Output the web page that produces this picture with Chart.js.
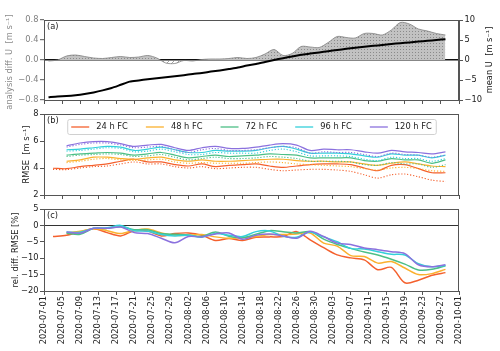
<!DOCTYPE html>
<html>
<head>
<meta charset="utf-8">
<script src="https://cdn.jsdelivr.net/npm/chart.js@4.4.1/dist/chart.umd.min.js"></script>
<style>
  html, body { margin: 0; padding: 0; background: #fff; }
  #wrap { position: relative; width: 500px; height: 351px; }
  #wrap canvas { position: absolute; left: 0; top: 0; }
</style>
</head>
<body>
<div id="wrap">
  <canvas id="panelA" width="500" height="351"></canvas>
  <canvas id="panelB" width="500" height="351"></canvas>
  <canvas id="panelC" width="500" height="351"></canvas>
</div>
<script>
// x values are days since 2020-07-01
const dateTicks = ["2020-07-01", "2020-07-05", "2020-07-09", "2020-07-13", "2020-07-17", "2020-07-21",
  "2020-07-25", "2020-07-29", "2020-08-02", "2020-08-06", "2020-08-10", "2020-08-14", "2020-08-18",
  "2020-08-22", "2020-08-26", "2020-08-30", "2020-09-03", "2020-09-07", "2020-09-11", "2020-09-15",
  "2020-09-19", "2020-09-23", "2020-09-27", "2020-10-01"];

// panel (a)
const daysA = [1, 3, 5, 7, 9, 11, 13, 15, 17, 19, 21, 23, 25, 27, 29, 31, 33, 35, 37, 39, 41, 43, 45,
  47, 49, 51, 53, 55, 57, 59, 61, 63, 65, 67, 69, 71, 73, 75, 77, 79, 81, 83, 85, 87, 89];
const analysisDiff = [-0.02, 0.0, 0.08, 0.1, 0.07, 0.04, 0.03, 0.05, 0.07, 0.05, 0.06, 0.09, 0.04, -0.06,
  -0.07, -0.01, -0.02, 0.01, 0.02, 0.02, 0.03, 0.05, 0.03, 0.05, 0.12, 0.21, 0.09, 0.13, 0.27, 0.26,
  0.25, 0.35, 0.47, 0.45, 0.44, 0.53, 0.53, 0.5, 0.6, 0.75, 0.72, 0.62, 0.58, 0.53, 0.5];
const meanU = [-9.3, -9.1, -9.0, -8.8, -8.5, -8.1, -7.6, -7.0, -6.2, -5.4, -5.1, -4.8, -4.55, -4.3,
  -4.05, -3.8, -3.5, -3.25, -2.9, -2.6, -2.25, -1.9, -1.4, -1.0, -0.5, 0.0, 0.45, 0.9, 1.3, 1.6, 1.9,
  2.2, 2.5, 2.8, 3.05, 3.3, 3.55, 3.75, 4.0, 4.2, 4.4, 4.6, 4.8, 5.0, 5.2];

// panels (b) and (c)
const days = [2, 5, 8, 11, 14, 17, 20, 23, 26, 29, 32, 35, 38, 41, 44, 47, 50, 53, 56, 59, 62, 65, 68,
  71, 74, 77, 80, 83, 86, 89];

const rmse24 = [3.98, 3.95, 4.1, 4.2, 4.3, 4.5, 4.65, 4.45, 4.45, 4.25, 4.15, 4.3, 4.1, 4.2, 4.25, 4.3,
  4.15, 4.05, 4.15, 4.25, 4.3, 4.3, 4.25, 4.0, 3.8, 4.2, 4.25, 3.95, 3.65, 3.65];
const rmse24Ref = [3.9, 3.88, 4.0, 4.1, 4.15, 4.3, 4.45, 4.3, 4.3, 4.1, 4.0, 4.1, 3.95, 4.0, 4.05, 4.05,
  3.9, 3.8, 3.85, 3.9, 3.9, 3.85, 3.75, 3.5, 3.25, 3.5, 3.55, 3.35, 3.1, 3.0];
const rmse48 = [null, 4.5, 4.6, 4.8, 4.8, 4.7, 4.65, 4.75, 4.8, 4.6, 4.5, 4.6, 4.5, 4.5, 4.55, 4.6, 4.65,
  4.65, 4.55, 4.5, 4.5, 4.45, 4.45, 4.3, 4.2, 4.35, 4.45, 4.3, 4.15, 4.1];
const rmse48Ref = [null, 4.4, 4.5, 4.65, 4.7, 4.6, 4.55, 4.6, 4.65, 4.45, 4.35, 4.4, 4.35, 4.35, 4.35,
  4.4, 4.45, 4.4, 4.3, 4.25, 4.2, 4.15, 4.1, 3.95, 3.85, 4.0, 4.05, 3.95, 3.8, 3.75];
const rmse72 = [null, 4.95, 5.05, 5.1, 5.15, 5.1, 4.95, 5.05, 5.15, 4.95, 4.75, 4.85, 4.95, 4.85, 4.9,
  4.95, 5.05, 5.0, 4.95, 4.75, 4.75, 4.75, 4.75, 4.55, 4.5, 4.7, 4.6, 4.6, 4.35, 4.6];
const rmse72Ref = [null, 4.85, 4.95, 5.0, 5.05, 5.0, 4.85, 4.9, 5.0, 4.8, 4.6, 4.7, 4.8, 4.7, 4.7, 4.75,
  4.85, 4.8, 4.7, 4.5, 4.5, 4.5, 4.45, 4.25, 4.2, 4.4, 4.3, 4.3, 4.05, 4.25];
const rmse96 = [null, 5.35, 5.4, 5.5, 5.6, 5.55, 5.3, 5.4, 5.55, 5.35, 5.15, 5.15, 5.3, 5.25, 5.25, 5.3,
  5.5, 5.6, 5.4, 5.1, 5.1, 5.1, 5.05, 4.9, 4.8, 5.05, 4.95, 4.95, 4.75, 4.95];
const rmse96Ref = [null, 5.25, 5.3, 5.4, 5.5, 5.45, 5.2, 5.25, 5.4, 5.2, 5.0, 5.0, 5.15, 5.1, 5.1, 5.1,
  5.3, 5.4, 5.2, 4.9, 4.9, 4.9, 4.85, 4.65, 4.55, 4.8, 4.7, 4.7, 4.5, 4.7];
const rmse120 = [null, 5.65, 5.85, 5.95, 5.95, 5.8, 5.6, 5.7, 5.75, 5.5, 5.3, 5.5, 5.6, 5.45, 5.45, 5.55,
  5.7, 5.8, 5.7, 5.3, 5.4, 5.35, 5.35, 5.2, 5.1, 5.3, 5.2, 5.15, 5.05, 5.2];
const rmse120Ref = [null, 5.55, 5.75, 5.85, 5.85, 5.7, 5.5, 5.55, 5.6, 5.35, 5.15, 5.35, 5.45, 5.3, 5.3,
  5.35, 5.5, 5.6, 5.5, 5.1, 5.2, 5.15, 5.15, 5.0, 4.85, 5.1, 5.0, 4.95, 4.8, 4.95];

const rel24 = [-3.4, -3.0, -2.0, -1.0, -2.2, -3.2, -1.6, -1.7, -3.2, -2.5, -2.3, -3.0, -4.6, -4.0, -4.6,
  -3.6, -3.5, -3.4, -1.9, -4.4, -6.8, -9.0, -9.9, -10.5, -13.5, -12.8, -17.5, -16.7, -15.2, -14.4];
const rel48 = [null, -2.3, -1.8, -1.0, -1.6, -2.5, -1.5, -1.1, -2.3, -3.0, -3.0, -2.8, -3.5, -3.9, -3.8,
  -3.4, -2.8, -2.8, -2.6, -2.3, -5.4, -6.3, -9.2, -9.5, -11.5, -11.0, -13.0, -15.0, -14.7, -13.4];
const rel72 = [null, -2.4, -2.7, -0.9, -0.9, -0.4, -1.3, -1.3, -2.5, -2.7, -2.9, -3.4, -2.0, -3.3, -3.8,
  -2.7, -1.6, -1.9, -2.3, -1.9, -4.2, -5.8, -7.0, -8.1, -9.0, -10.3, -11.8, -13.6, -13.4, -12.3];
const rel96 = [null, -2.0, -2.1, -0.9, -0.7, 0.0, -1.6, -1.8, -2.8, -3.2, -3.0, -3.6, -2.5, -3.0, -3.4,
  -1.9, -1.7, -3.3, -3.6, -2.0, -3.5, -5.0, -7.0, -7.2, -8.0, -8.8, -9.0, -11.7, -12.6, -12.2];
const rel120 = [null, -2.0, -2.4, -0.9, -0.9, -0.5, -2.2, -2.5, -3.9, -5.3, -3.4, -3.5, -2.6, -2.3, -4.2,
  -3.0, -2.6, -3.2, -3.9, -1.8, -3.4, -5.4, -5.8, -6.9, -7.4, -8.0, -8.6, -12.0, -12.6, -12.0];

const horizons = [
  { label: "24 h FC", color: "#f4602d", rmse: rmse24, ref: rmse24Ref, rel: rel24 },
  { label: "48 h FC", color: "#fbb12e", rmse: rmse48, ref: rmse48Ref, rel: rel48 },
  { label: "72 h FC", color: "#4cbf86", rmse: rmse72, ref: rmse72Ref, rel: rel72 },
  { label: "96 h FC", color: "#33d0da", rmse: rmse96, ref: rmse96Ref, rel: rel96 },
  { label: "120 h FC", color: "#8b71de", rmse: rmse120, ref: rmse120Ref, rel: rel120 }
];

Chart.defaults.font.family = "DejaVu Sans";
Chart.defaults.font.size = 8.3;
const FONT = { family: "DejaVu Sans", size: 8.3 };
const TXT = '8.3px "DejaVu Sans"';

const pts = (xs, ys) => xs.map((x, i) => ({ x: x, y: ys[i] }));
const minus = s => String(s).replace("-", "\u2212");
const isZero = v => Math.abs(v) < 1e-9;

// frame, panel tag and rotated axis titles
const decor = {
  id: "decor",
  afterDatasetsDraw(chart, args, o) {
    const ctx = chart.ctx, a = chart.chartArea;
    ctx.save();
    ctx.strokeStyle = "#555";
    ctx.lineWidth = 1;
    ctx.strokeRect(Math.round(a.left) + 0.5, Math.round(a.top) + 0.5,
      Math.round(a.right - a.left) - 1, Math.round(a.bottom - a.top));
    ctx.font = TXT;
    ctx.fillStyle = "#222";
    ctx.textBaseline = "top";
    ctx.fillText(o.tag, a.left + 3, a.top + 3);
    (o.titles || []).forEach(t => {
      ctx.save();
      ctx.translate(t.x, (a.top + a.bottom) / 2 + (t.dy || 0));
      ctx.rotate(-Math.PI / 2);
      ctx.textAlign = "center";
      ctx.textBaseline = "middle";
      ctx.fillStyle = t.color;
      ctx.fillText(t.text, 0, 0);
      ctx.restore();
    });
    ctx.restore();
  }
};

// boxed one-row legend like matplotlib
const boxLegend = {
  id: "boxLegend",
  afterDatasetsDraw(chart, args, o) {
    const ctx = chart.ctx, a = chart.chartArea;
    const items = chart.data.datasets.filter(d => d.inLegend);
    const lineLen = 18, gapText = 7, gapItem = 18, pad = 4;
    ctx.save();
    ctx.font = TXT;
    const widths = items.map(d => ctx.measureText(d.label).width);
    let total = 2 * pad + gapItem * (items.length - 1);
    widths.forEach(w => { total += lineLen + gapText + w; });
    const x0 = (a.left + a.right) / 2 - total / 2, y0 = a.top + o.offset, h = o.height;
    ctx.beginPath();
    ctx.roundRect(x0 + 0.5, y0 + 0.5, total, h, 2);
    ctx.fillStyle = "rgba(255,255,255,0.8)";
    ctx.fill();
    ctx.strokeStyle = "#d0d0d0";
    ctx.lineWidth = 1;
    ctx.stroke();
    let x = x0 + pad;
    const yMid = y0 + h / 2 + 0.5;
    items.forEach((d, i) => {
      ctx.beginPath();
      ctx.moveTo(x, yMid);
      ctx.lineTo(x + lineLen, yMid);
      ctx.strokeStyle = d.borderColor;
      ctx.lineWidth = 1.3;
      ctx.stroke();
      ctx.fillStyle = "#222";
      ctx.textBaseline = "middle";
      ctx.fillText(d.label, x + lineLen + gapText, yMid);
      x += lineLen + gapText + widths[i] + gapItem;
    });
    ctx.restore();
  }
};

function xScale(showLabels) {
  return {
    type: "linear", min: 0, max: 92,
    afterFit: s => { s.height = showLabels ? 60 : 4; },
    ticks: {
      display: showLabels, stepSize: 4, autoSkip: false, minRotation: 90, maxRotation: 90,
      padding: 1, color: "#222", font: FONT,
      callback: v => dateTicks[Math.round(v / 4)]
    },
    grid: { drawOnChartArea: false, tickLength: 4, color: "#555", tickColor: "#555", tickWidth: 1 },
    border: { color: "#555" }
  };
}

function yScale(o) {
  return {
    position: o.pos || "left", min: o.min, max: o.max,
    afterFit: s => { s.width = o.width; },
    ticks: { stepSize: o.step, padding: 1.5, color: o.color || "#222", font: FONT, callback: o.fmt },
    grid: {
      drawOnChartArea: !!o.zero,
      color: c => (o.zero && c.tick && isZero(c.tick.value)) ? o.zero : "rgba(0,0,0,0)",
      lineWidth: o.zeroWidth || 1,
      tickLength: 4, tickColor: "#555", tickWidth: 1
    },
    border: { color: "#555" }
  };
}

const base = {
  responsive: false,
  animation: false,
  events: [],
  elements: { point: { radius: 0 }, line: { tension: 0.3 } }
};

// ---------- panel (a) ----------
const ctxA = document.getElementById("panelA").getContext("2d");
const dotCanvas = document.createElement("canvas");
dotCanvas.width = 3; dotCanvas.height = 3;
const dg = dotCanvas.getContext("2d");
dg.fillStyle = "#c2c2c2"; dg.fillRect(0, 0, 3, 3);
dg.fillStyle = "#8a8a8a"; dg.fillRect(1, 1, 1, 1);
const hatchCanvas = document.createElement("canvas");
hatchCanvas.width = 5; hatchCanvas.height = 5;
const hg = hatchCanvas.getContext("2d");
hg.strokeStyle = "#8a8a8a"; hg.lineWidth = 0.8;
hg.beginPath(); hg.moveTo(0, 5); hg.lineTo(5, 0); hg.stroke();

new Chart(ctxA, {
  type: "line",
  data: {
    datasets: [
      { label: "mean U", data: pts(daysA, meanU), yAxisID: "yR", borderColor: "#000",
        borderWidth: 2, fill: false, order: 0, tension: 0.2 },
      { label: "analysis diff. U", data: pts(daysA, analysisDiff), yAxisID: "y",
        borderColor: "#808080", borderWidth: 0.8, order: 1,
        fill: { target: "origin", above: ctxA.createPattern(dotCanvas, "repeat"),
                below: ctxA.createPattern(hatchCanvas, "repeat") } }
    ]
  },
  options: Object.assign({}, base, {
    layout: { padding: { top: 20, bottom: 247, left: 0, right: 0 } },
    plugins: {
      legend: { display: false }, tooltip: { enabled: false },
      decor: { tag: "(a)", titles: [
        { text: "analysis diff. U  [m s\u207B\u00B9]", x: 10, dy: 2, color: "#8a8a8a" },
        { text: "mean U  [m s\u207B\u00B9]", x: 490, color: "#111" }
      ] }
    },
    scales: {
      x: xScale(false),
      y: yScale({ min: -0.8, max: 0.8, step: 0.4, width: 44, color: "#808080",
        zero: "#111", zeroWidth: 1.4, fmt: v => isZero(v) ? "0.0" : minus(v.toFixed(1)) }),
      yR: yScale({ pos: "right", min: -10, max: 10, step: 5, width: 41,
        fmt: v => isZero(v) ? "0" : minus(v.toFixed(0)) })
    }
  }),
  plugins: [decor]
});

// ---------- panel (b) ----------
const dsB = [];
horizons.forEach((h, i) => {
  dsB.push({ label: h.label, inLegend: true, data: pts(days, h.rmse), borderColor: h.color,
    borderWidth: 1.2, fill: false, order: 10 - 2 * i });
  dsB.push({ label: h.label + " ref", data: pts(days, h.ref), borderColor: h.color,
    borderWidth: 1.1, borderDash: [1.2, 1.8], fill: false, order: 11 - 2 * i });
});
new Chart(document.getElementById("panelB"), {
  type: "line",
  data: { datasets: dsB },
  options: Object.assign({}, base, {
    layout: { padding: { top: 114, bottom: 152, left: 0, right: 41 } },
    plugins: {
      legend: { display: false }, tooltip: { enabled: false },
      decor: { tag: "(b)", titles: [{ text: "RMSE  [m s\u207B\u00B9]", x: 27, color: "#222" }] },
      boxLegend: { offset: 5, height: 15 }
    },
    scales: {
      x: xScale(false),
      y: yScale({ min: 2, max: 8, step: 2, width: 44, fmt: v => String(v) })
    }
  }),
  plugins: [decor, boxLegend]
});

// ---------- panel (c) ----------
new Chart(document.getElementById("panelC"), {
  type: "line",
  data: {
    datasets: horizons.map((h, i) => ({ label: h.label, data: pts(days, h.rel), borderColor: h.color,
      borderWidth: 1.5, fill: false, order: 5 - i }))
  },
  options: Object.assign({}, base, {
    layout: { padding: { top: 209, bottom: 0, left: 0, right: 41 } },
    plugins: {
      legend: { display: false }, tooltip: { enabled: false },
      decor: { tag: "(c)", titles: [{ text: "rel. diff. RMSE [%]", x: 16, color: "#222" }] }
    },
    scales: {
      x: xScale(true),
      y: yScale({ min: -20, max: 5, step: 5, width: 44, zero: "#333", zeroWidth: 1,
        fmt: v => minus(v) })
    }
  }),
  plugins: [decor]
});
</script>
</body>
</html>
